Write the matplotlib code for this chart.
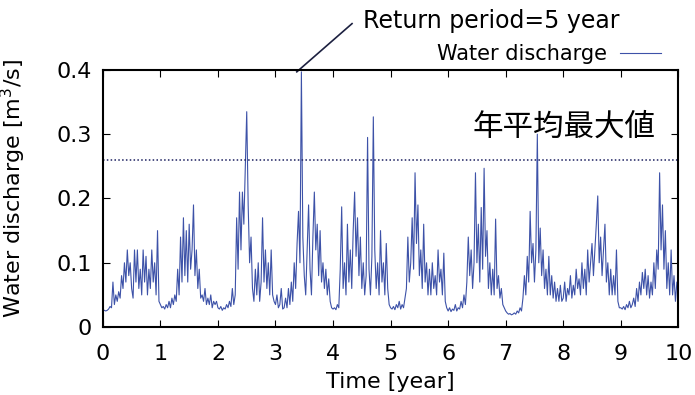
import numpy as np
import matplotlib.pyplot as plt

# discharge samples, one list per year (m^3/s)
year0 = [0.027, 0.026, 0.025, 0.026, 0.028, 0.032, 0.030, 0.070, 0.035, 0.050,
         0.040, 0.055, 0.045, 0.080, 0.060, 0.100, 0.070, 0.120, 0.080, 0.100,
         0.060, 0.045, 0.120, 0.070, 0.120, 0.060, 0.090, 0.050, 0.120, 0.070,
         0.110, 0.050, 0.090, 0.060, 0.120, 0.070, 0.100, 0.050, 0.150, 0.040]
year1 = [0.035, 0.030, 0.032, 0.028, 0.035, 0.030, 0.040, 0.030, 0.045, 0.035,
         0.050, 0.040, 0.090, 0.050, 0.140, 0.070, 0.170, 0.080, 0.150, 0.070,
         0.160, 0.090, 0.120, 0.190, 0.080, 0.120, 0.060, 0.090, 0.045, 0.050,
         0.040, 0.060, 0.035, 0.045, 0.035, 0.050, 0.030, 0.040, 0.035, 0.040]
year2 = [0.030, 0.028, 0.032, 0.026, 0.030, 0.028, 0.035, 0.030, 0.040, 0.032,
         0.060, 0.035, 0.050, 0.170, 0.090, 0.210, 0.120, 0.210, 0.160, 0.250,
         0.335, 0.190, 0.100, 0.140, 0.060, 0.040, 0.090, 0.050, 0.100, 0.040,
         0.070, 0.170, 0.070, 0.120, 0.060, 0.100, 0.050, 0.120, 0.050, 0.040]
year3 = [0.035, 0.050, 0.030, 0.035, 0.060, 0.028, 0.030, 0.045, 0.030, 0.060,
         0.035, 0.070, 0.040, 0.100, 0.060, 0.130, 0.180, 0.100, 0.397, 0.140,
         0.080, 0.050, 0.120, 0.190, 0.090, 0.050, 0.140, 0.210, 0.120, 0.160,
         0.080, 0.150, 0.070, 0.100, 0.060, 0.090, 0.050, 0.075, 0.040, 0.030]
year4 = [0.028, 0.030, 0.027, 0.035, 0.030, 0.090, 0.187, 0.060, 0.100, 0.050,
         0.160, 0.070, 0.120, 0.060, 0.150, 0.210, 0.110, 0.170, 0.080, 0.140,
         0.060, 0.100, 0.050, 0.080, 0.295, 0.090, 0.050, 0.110, 0.327, 0.120,
         0.060, 0.100, 0.050, 0.150, 0.070, 0.100, 0.050, 0.130, 0.060, 0.035]
year5 = [0.030, 0.028, 0.032, 0.027, 0.035, 0.030, 0.040, 0.028, 0.035, 0.030,
         0.045, 0.060, 0.140, 0.070, 0.100, 0.170, 0.090, 0.240, 0.130, 0.190,
         0.080, 0.120, 0.060, 0.160, 0.070, 0.100, 0.050, 0.090, 0.050, 0.100,
         0.060, 0.080, 0.050, 0.120, 0.070, 0.090, 0.050, 0.115, 0.040, 0.030]
year6 = [0.025, 0.030, 0.024, 0.028, 0.026, 0.035, 0.025, 0.030, 0.028, 0.040,
         0.030, 0.050, 0.035, 0.070, 0.140, 0.080, 0.120, 0.060, 0.100, 0.240,
         0.100, 0.160, 0.070, 0.186, 0.090, 0.247, 0.110, 0.150, 0.060, 0.100,
         0.050, 0.090, 0.050, 0.168, 0.060, 0.080, 0.045, 0.060, 0.035, 0.030]
year7 = [0.025, 0.022, 0.020, 0.021, 0.019, 0.020, 0.022, 0.020, 0.025, 0.022,
         0.030, 0.025, 0.045, 0.080, 0.050, 0.110, 0.070, 0.180, 0.100, 0.130,
         0.070, 0.120, 0.300, 0.100, 0.154, 0.080, 0.120, 0.060, 0.090, 0.050,
         0.110, 0.050, 0.080, 0.045, 0.070, 0.040, 0.060, 0.040, 0.065, 0.040]
year8 = [0.045, 0.070, 0.040, 0.060, 0.050, 0.080, 0.045, 0.065, 0.050, 0.090,
         0.060, 0.075, 0.050, 0.100, 0.060, 0.090, 0.050, 0.120, 0.070, 0.100,
         0.130, 0.080, 0.120, 0.160, 0.204, 0.100, 0.140, 0.080, 0.120, 0.160,
         0.070, 0.100, 0.050, 0.090, 0.050, 0.080, 0.050, 0.120, 0.040, 0.030]
year9 = [0.030, 0.028, 0.032, 0.027, 0.035, 0.030, 0.040, 0.030, 0.035, 0.045,
         0.032, 0.060, 0.040, 0.070, 0.050, 0.085, 0.060, 0.090, 0.050, 0.080,
         0.045, 0.070, 0.050, 0.100, 0.060, 0.120, 0.090, 0.240, 0.120, 0.190,
         0.090, 0.150, 0.060, 0.100, 0.050, 0.120, 0.050, 0.080, 0.040, 0.070]
last_value = 0.060

annual_max_mean = 0.26
return5_peak = 0.397
return5_time = 3.37

years = [year0, year1, year2, year3, year4, year5, year6, year7, year8, year9]

t = []
q = []
for i, yr in enumerate(years):
    t.extend(i + np.arange(len(yr)) / len(yr))
    q.extend(yr)
t.append(10.0)
q.append(last_value)

plt.rcParams['font.family'] = ['DejaVu Sans']

fig = plt.figure(figsize=(6.95, 3.95), dpi=100)
ax = fig.add_axes([0.148, 0.172, 0.828, 0.651])

ax.plot(t, q, color='#3d52a8', lw=0.8, label='Water discharge')
ax.axhline(annual_max_mean, color='#1c2060', lw=1.1, ls=(0, (1, 1.5)))

ax.set_xlim(0, 10)
ax.set_ylim(0, 0.4)
ax.set_xticks(range(11))
ax.set_yticks([0, 0.1, 0.2, 0.3, 0.4])
ax.set_yticklabels(['0', '0.1', '0.2', '0.3', '0.4'])
ax.tick_params(direction='in', top=True, right=True, length=5, width=0.8,
               labelsize=16)
ax.tick_params(axis='x', pad=12)
ax.tick_params(axis='y', pad=8)
for s in ax.spines.values():
    s.set_linewidth(1.5)

ax.set_xlabel('Time [year]', fontsize=16, labelpad=6)
ax.set_ylabel('Water discharge [m$^3$/s]', fontsize=16)
ax.yaxis.set_label_coords(-0.13, 0.54)

# leader line from the 5-year peak up to its label
ax.plot([return5_time, 4.33], [return5_peak, 0.472], color='#1c2040', lw=1.2,
        clip_on=False)
ax.text(4.52, 0.476, 'Return period=5 year', fontsize=17, va='center', ha='left')

ax.text(6.43, 0.311, '年平均最大値', fontsize=22, va='center', ha='left',
        family=['Noto Sans CJK JP', 'DejaVu Sans'])

leg = ax.legend(loc='lower right', bbox_to_anchor=(0.985, 0.99), frameon=False,
                markerfirst=False, fontsize=15, handlelength=2.0,
                borderaxespad=0, handletextpad=0.6)

fig.savefig('out.png', dpi=100)
